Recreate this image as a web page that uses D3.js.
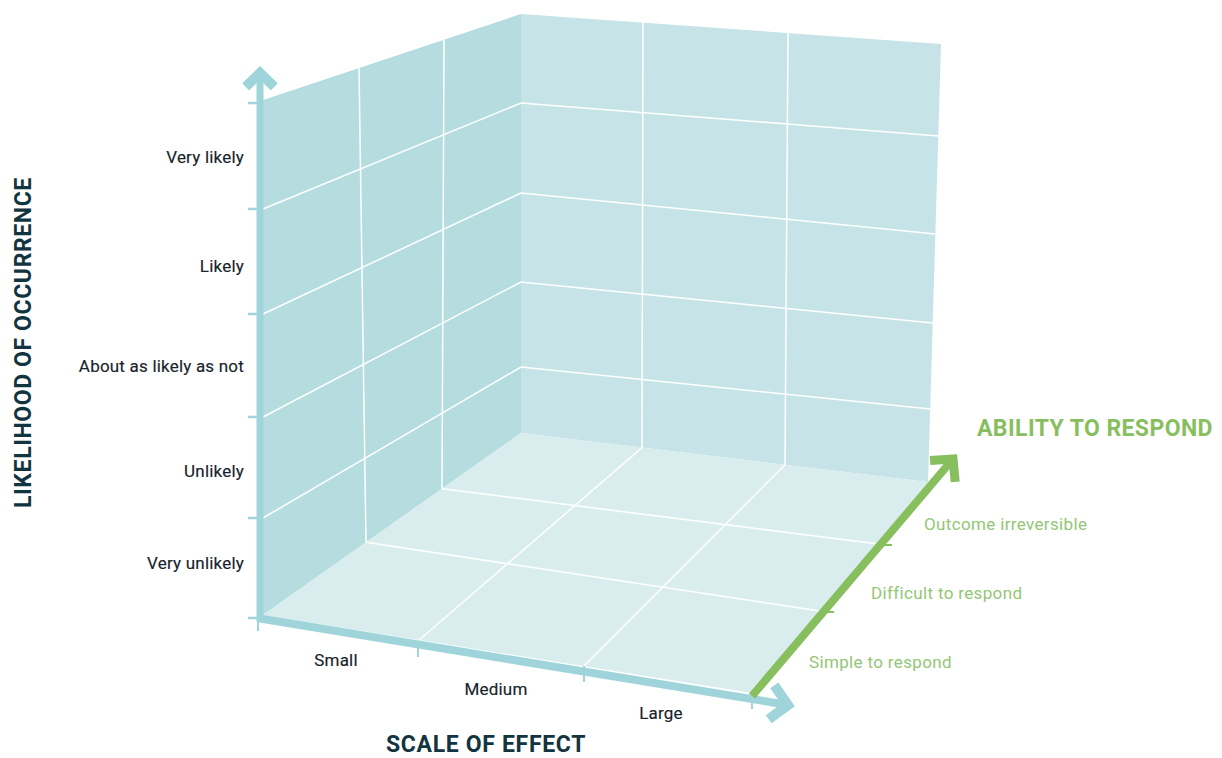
<!DOCTYPE html>
<html lang="en">
  <head>
    <meta charset="UTF-8" />
    <title>Risk cube</title>
    <script src="https://d3js.org/d3.v7.min.js"></script>
    <style>
      body { margin: 0; background: #fff; overflow: hidden; }
      svg { display: block; }
      text { font-family: Roboto, sans-serif; }
      .tick-label { font-size: 17px; fill: #17232b; letter-spacing: 0.2px; stroke: #17232b; stroke-width: 0.15px; }
      .green-label { font-size: 17px; fill: #93c675; letter-spacing: 0.35px; }
      .title { font-size: 23px; font-weight: 700; fill: #12343f; }
      .grid { stroke: #fff; stroke-width: 1.5; fill: none; }
    </style>
  </head>
  <body>
    <svg id="chart" width="1222" height="758"></svg>
    <script>
      // categories
      const likelihood = ["Very unlikely", "Unlikely", "About as likely as not", "Likely", "Very likely"];
      const effect = ["Small", "Medium", "Large"];
      const response = ["Simple to respond", "Difficult to respond", "Outcome irreversible"];

      const bandsY = d3.range(likelihood.length + 1);
      const bandsX = d3.range(effect.length + 1);
      const bandsZ = d3.range(response.length + 1);

      // height of each likelihood boundary along the three upright edges
      const yFront = d3.scaleLinear().domain(bandsY).range([615, 518, 417, 314, 209, 100]);
      const yCorner = d3.scaleLinear().domain(bandsY).range([433, 367, 282, 193, 103, 14]);
      const yRight = d3.scaleLinear().domain(bandsY).range([482, 409, 323, 234, 136, 44]);

      // left wall and floor depth, front to back
      const zBottomX = d3.scaleLinear().domain(bandsZ).range([263, 366, 442, 521]);
      const zTopX = d3.scaleLinear().domain(bandsZ).range([263, 359, 444, 521]);
      const zFloorRightX = d3.scaleLinear().domain(bandsZ).range([752, 820, 878, 928]);
      const zFloorRightY = d3.scaleLinear().domain(bandsZ).range([693, 611, 544, 482]);

      // back wall and floor width, left to right
      const xBackBottom = d3.scaleLinear().domain(bandsX).range([521, 642, 785, 928]);
      const xBackTop = d3.scaleLinear().domain(bandsX).range([521, 643, 788, 941]);
      const xFrontX = d3.scaleLinear().domain(bandsX).range([263, 418, 584, 752]);
      const xFrontY = d3.scaleLinear().domain(bandsX).range([615, 641, 666, 693]);

      // edges of the box between its corners
      const leftWallLine = (t) => (t - 263) / (521 - 263);
      const backWallLine = (t) => (t - 521) / (941 - 521);
      const lerp = d3.interpolateNumber;

      const labelY = d3.scaleOrdinal().domain(likelihood).range([563, 471, 366, 266, 157]);
      const labelX = d3.scaleOrdinal().domain(effect).range([336, 496, 661]);
      const labelXY = d3.scaleOrdinal().domain(effect).range([660, 689, 713]);
      const labelZ = d3.scaleOrdinal().domain(response).range([809, 871, 924]);
      const labelZY = d3.scaleOrdinal().domain(response).range([662, 593, 524]);

      const BLUE = "#9fd5da";
      const GREEN = "#88bf5e";
      const svg = d3.select("#chart");
      const line = d3.line();

      // faces
      const topY0 = yCorner(5), last = 5;
      svg.append("path")
        .attr("d", line([[zTopX(0), yFront(last)], [zTopX(3), topY0], [zBottomX(3), yCorner(0)], [zBottomX(0), yFront(0)]]) + "Z")
        .attr("fill", "#b5dde0");
      svg.append("path")
        .attr("d", line([[xBackTop(0), topY0], [xBackTop(3), yRight(last)], [xBackBottom(3), yRight(0)], [xBackBottom(0), yCorner(0)]]) + "Z")
        .attr("fill", "#c6e4e7");
      svg.append("path")
        .attr("d", line([[xBackBottom(0), yCorner(0)], [xBackBottom(3), yRight(0)], [xFrontX(3), xFrontY(3)], [xFrontX(0), xFrontY(0)]]) + "Z")
        .attr("fill", "#d9edef");

      const grid = svg.append("g").attr("class", "grid");

      // likelihood lines across left and back walls
      grid.selectAll(".rowLine")
        .data(d3.range(1, likelihood.length))
        .join("path")
        .attr("class", "rowLine")
        .attr("d", (d) => line([[263, yFront(d)], [521, yCorner(d)], [lerp(928, 941)((yRight(0) - yRight(d)) / (yRight(0) - yRight(5))), yRight(d)]]));

      // depth lines on the left wall
      grid.selectAll(".depthWall")
        .data([1, 2])
        .join("path")
        .attr("class", "depthWall")
        .attr("d", (d) => {
          const topY = lerp(yFront(5), yCorner(5))(leftWallLine(zTopX(d)));
          const botY = lerp(yFront(0), yCorner(0))(leftWallLine(zBottomX(d)));
          return line([[zTopX(d), topY], [zBottomX(d), botY]]);
        });

      // width lines on the back wall, carried down over the floor
      grid.selectAll(".widthLine")
        .data([1, 2])
        .join("path")
        .attr("class", "widthLine")
        .attr("d", (d) => {
          const topY = lerp(yCorner(5), yRight(5))(backWallLine(xBackTop(d)));
          const botY = lerp(yCorner(0), yRight(0))((xBackBottom(d) - 521) / (928 - 521));
          return line([[xBackTop(d), topY], [xBackBottom(d), botY], [xFrontX(d), xFrontY(d)]]);
        });

      // depth lines on the floor
      grid.selectAll(".depthFloor")
        .data([1, 2])
        .join("path")
        .attr("class", "depthFloor")
        .attr("d", (d) => {
          const botY = lerp(yFront(0), yCorner(0))(leftWallLine(zBottomX(d)));
          return line([[zBottomX(d), botY], [zFloorRightX(d), zFloorRightY(d)]]);
        });

      // axes
      function arrow(from, to, color, w, headW, head) {
        const a = Math.atan2(to[1] - from[1], to[0] - from[0]);
        const arm = (s) => [
          to[0] - head * Math.cos(a + s * 0.8),
          to[1] - head * Math.sin(a + s * 0.8),
        ];
        svg.append("path")
          .attr("d", line([from, to]))
          .attr("stroke", color).attr("stroke-width", w).attr("fill", "none");
        svg.append("path")
          .attr("d", line([arm(1), to, arm(-1)]))
          .attr("stroke", color).attr("stroke-width", headW).attr("fill", "none")
          .attr("stroke-linejoin", "miter");
      }

      // y ticks
      svg.selectAll(".ytick")
        .data(bandsY)
        .join("line")
        .attr("class", "ytick")
        .attr("x1", 248).attr("x2", 260)
        .attr("y1", (d) => yFront(d) + (d === 0 ? 3 : d === 5 ? 3 : 0))
        .attr("y2", (d) => yFront(d) + (d === 0 ? 3 : d === 5 ? 3 : 0))
        .attr("stroke", BLUE).attr("stroke-width", 2.5);

      // x ticks
      svg.selectAll(".xtick")
        .data(bandsX)
        .join("line")
        .attr("class", "xtick")
        .attr("x1", (d) => xFrontX(d) - (d === 0 ? 5 : 0))
        .attr("x2", (d) => xFrontX(d) - (d === 0 ? 5 : 0))
        .attr("y1", (d) => xFrontY(d))
        .attr("y2", (d) => xFrontY(d) + 16)
        .attr("stroke", BLUE).attr("stroke-width", 2);

      arrow([260, 620], [260, 73], BLUE, 7, 10, 20);
      arrow([257, 618], [788, 705], BLUE, 8, 10, 24);

      // green ticks
      svg.selectAll(".ztick")
        .data([1, 2])
        .join("line")
        .attr("class", "ztick")
        .attr("x1", (d) => zFloorRightX(d))
        .attr("x2", (d) => zFloorRightX(d) + 14)
        .attr("y1", (d) => zFloorRightY(d) + 1)
        .attr("y2", (d) => zFloorRightY(d) + 1)
        .attr("stroke", GREEN).attr("stroke-width", 2);

      arrow([752, 696], [953, 459], GREEN, 8, 9, 23);

      // labels
      svg.selectAll(".ylab")
        .data(likelihood)
        .join("text")
        .attr("class", "ylab tick-label")
        .attr("x", 244)
        .attr("y", (d) => labelY(d) + 6)
        .attr("text-anchor", "end")
        .text((d) => d);

      svg.selectAll(".xlab")
        .data(effect)
        .join("text")
        .attr("class", "xlab tick-label")
        .attr("x", labelX)
        .attr("y", (d) => labelXY(d) + 6)
        .attr("text-anchor", "middle")
        .text((d) => d);

      svg.selectAll(".zlab")
        .data(response)
        .join("text")
        .attr("class", "zlab green-label")
        .attr("x", labelZ)
        .attr("y", (d) => labelZY(d) + 6)
        .text((d) => d);

      svg.append("text").attr("class", "title")
        .attr("transform", "translate(31,508) rotate(-90)")
        .style("letter-spacing", "0.6px")
        .text("LIKELIHOOD OF OCCURRENCE");
      svg.append("text").attr("class", "title")
        .attr("x", 386).attr("y", 752)
        .style("letter-spacing", "0.67px")
        .text("SCALE OF EFFECT");
      svg.append("text").attr("class", "title")
        .attr("x", 977).attr("y", 436)
        .style("letter-spacing", "0.4px")
        .style("fill", GREEN)
        .text("ABILITY TO RESPOND");
    </script>
  </body>
</html>
